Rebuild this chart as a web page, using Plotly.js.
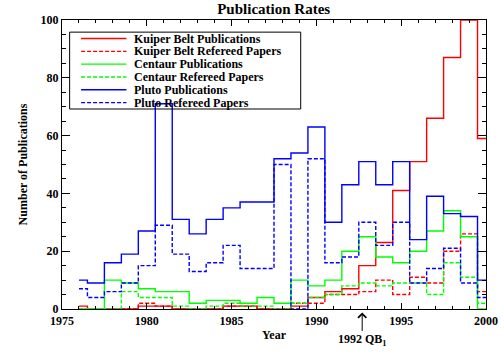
<!DOCTYPE html>
<html>
<head>
<meta charset="utf-8">
<script src="https://cdn.plot.ly/plotly-3.0.1.min.js"></script>
<style>html,body{margin:0;padding:0;background:#fff;}#chart{width:504px;height:360px;}</style>
</head>
<body>
<div id="chart"></div>
<script>
// ---- data ----
var years = [1976,1977,1978,1979,1980,1981,1982,1983,1984,1985,1986,1987,1988,1989,1990,1991,1992,1993,1994,1995,1996,1997,1998,1999,2000];
var kuiperPub = [1,0,0,0,1,1,0,0,0,1,1,0,0,1,4,6,7,15,23,41,51,66,87,100,59];
var kuiperRef = [0,0,0,0,2,1,0,0,0,1,1,0,0,2,2,5,5,6,10,5,11,9,20,26,6];
var centaurPub = [0,0,10,9,7,6,6,2,3,3,2,4,2,10,8,10,20,25,18,16,20,27,34,25,0];
var centaurRef = [0,0,0,6,4,4,1,0,1,2,1,1,0,2,4,5,8,9,8,9,9,5,16,11,2];
var plutoPub = [10,9,16,19,27,71,31,26,31,35,37,37,52,54,63,30,43,51,43,51,24,39,33,32,10];
var plutoRef = [7,4,6,9,15,29,19,13,16,22,14,14,50,0,52,16,18,30,22,30,9,14,21,9,4];
var seriesNames = ["Kuiper Belt Publications","Kuiper Belt Refereed Papers","Centaur Publications","Centaur Refereed Papers","Pluto Publications","Pluto Refereed Papers"];
var xTickVals = [1975,1980,1985,1990,1995,2000];
var yTickVals = [0,20,40,60,80,100];
var annotationYear = 1992.7;
var annotationText = "1992 QB<sub>1</sub>";

// ---- styles ----
var seriesData = [kuiperPub,kuiperRef,centaurPub,centaurRef,plutoPub,plutoRef];
var colors = ["#ff0000","#ff0000","#00ff00","#00ff00","#0000ff","#0000ff"];
var dashes = ["solid","4px,2px","solid","4px,2px","solid","4px,2px"];
var FONT = "Liberation Serif, Times New Roman, serif";

var traces = seriesData.map(function(vals,i){
  return {
    x: years, y: vals, type: "scatter", mode: "lines", name: seriesNames[i],
    line: {shape: "hvh", color: colors[i], width: 1.4, dash: dashes[i]},
    showlegend: false, hoverinfo: "skip"
  };
});

// manual legend (compact, like the original)
var shapes = [];
var annotations = [];
var boxX0 = 0.018, boxX1 = 0.563, boxTop = 0.958, boxBot = 0.692;
var rowStep = (boxTop - boxBot) / seriesNames.length;
shapes.push({type:"rect", xref:"paper", yref:"paper", x0:boxX0, x1:boxX1, y0:boxBot, y1:boxTop,
  line:{color:"#000", width:1}, fillcolor:"rgba(0,0,0,0)", layer:"above"});
seriesNames.forEach(function(nm,i){
  var yy = boxTop - (i+0.5)*rowStep;
  shapes.push({type:"line", xref:"paper", yref:"paper", x0:0.045, x1:0.152, y0:yy, y1:yy,
    line:{color:colors[i], width:1.4, dash:dashes[i]}, layer:"above"});
  annotations.push({xref:"paper", yref:"paper", x:0.168, y:yy, xanchor:"left", yanchor:"middle",
    text:nm, showarrow:false, borderpad:0, font:{family:FONT, size:12, color:"#000", weight:"bold"}});
});
annotations.push({xref:"x", yref:"paper", x:annotationYear, y:-0.012, text:annotationText,
  showarrow:true, arrowhead:4, arrowsize:1.6, arrowwidth:1, arrowcolor:"#000",
  ax:0, ay:28, font:{family:FONT, size:12, color:"#000", weight:"bold"}});

var layout = {
  width: 504, height: 360,
  margin: {l: 62, r: 18, t: 20, b: 51, pad: 0},
  paper_bgcolor: "#fff", plot_bgcolor: "#fff",
  font: {family: FONT, size: 12, color: "#000"},
  title: {text: "Publication Rates", x: 0.543, xanchor: "center", y: 0.977, yanchor: "middle",
    font: {family: FONT, size: 15, color: "#000", weight: "bold"}},
  xaxis: {
    range: [1975, 2000], tickvals: xTickVals, ticktext: xTickVals.map(String),
    ticks: "inside", ticklen: 6, tickwidth: 1, tickcolor: "#000",
    minor: {dtick: 1, tick0: 1975, ticks: "inside", ticklen: 3, tickcolor: "#000", tickwidth: 1},
    showline: true, linecolor: "#000", linewidth: 1, mirror: "ticks",
    showgrid: false, zeroline: false, ticklabelstandoff: 1,
    tickfont: {family: FONT, size: 12, weight: "bold"},
    title: {text: "Year", font: {family: FONT, size: 12, weight: "bold"}, standoff: 3}
  },
  yaxis: {
    range: [0, 100], tickvals: yTickVals, ticktext: yTickVals.map(String),
    ticks: "inside", ticklen: 8, tickwidth: 1, tickcolor: "#000",
    minor: {dtick: 5, tick0: 0, ticks: "inside", ticklen: 4, tickcolor: "#000", tickwidth: 1},
    showline: true, linecolor: "#000", linewidth: 1, mirror: "ticks",
    showgrid: false, zeroline: false,
    tickfont: {family: FONT, size: 12, weight: "bold"},
    title: {text: "Number of Publications", font: {family: FONT, size: 12, weight: "bold"}, standoff: 10}
  },
  shapes: shapes,
  annotations: annotations,
  showlegend: false
};

Plotly.newPlot("chart", traces, layout, {staticPlot: true, displayModeBar: false});
</script>
</body>
</html>
